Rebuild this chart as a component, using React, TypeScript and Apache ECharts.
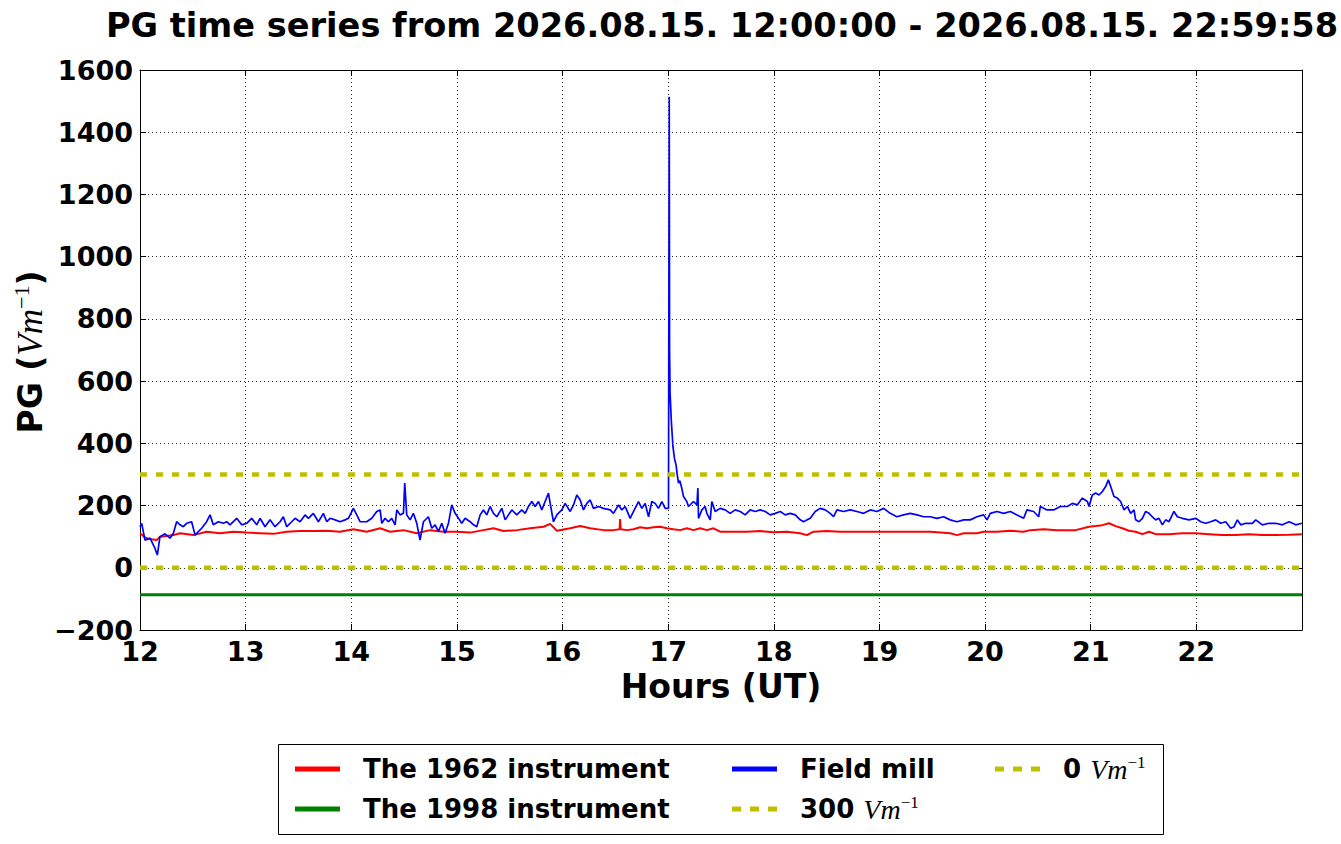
import React, { useEffect, useRef } from 'react';
import * as echarts from 'echarts';

const FONT = 'DejaVu Sans';

const blueTimes = [
  12.000, 12.016, 12.047, 12.095, 12.142, 12.164, 12.189, 12.237, 12.284, 12.316, 12.347, 12.379, 12.410, 12.442, 12.489,
  12.521, 12.552, 12.584, 12.631, 12.663, 12.694, 12.742, 12.789, 12.821, 12.852, 12.915, 12.963, 13.010, 13.057, 13.105,
  13.136, 13.184, 13.231, 13.278, 13.326, 13.357, 13.389, 13.436, 13.468, 13.515, 13.563, 13.594, 13.641, 13.689, 13.736,
  13.768, 13.799, 13.847, 13.894, 13.941, 13.973, 14.020, 14.052, 14.083, 14.146, 14.194, 14.241, 14.273,
  14.289, 14.320, 14.352, 14.383, 14.415, 14.431, 14.462, 14.494, 14.506, 14.525, 14.557, 14.588, 14.620, 14.651, 14.683,
  14.730, 14.762, 14.794, 14.825, 14.857, 14.888, 14.920, 14.951, 14.983, 15.015, 15.046, 15.078, 15.125, 15.157, 15.188,
  15.220, 15.251, 15.283, 15.314, 15.346, 15.378, 15.425, 15.457, 15.488, 15.520, 15.567, 15.614, 15.646, 15.677, 15.709,
  15.741, 15.772, 15.804, 15.835, 15.867, 15.883, 15.914, 15.946, 15.993, 16.025, 16.072, 16.104, 16.135, 16.167, 16.198,
  16.230, 16.261, 16.293, 16.340, 16.388, 16.451,
  16.482, 16.530, 16.561, 16.593, 16.640, 16.672, 16.719, 16.751, 16.782, 16.814, 16.845, 16.877, 16.908, 16.940, 16.972,
  17.003, 17.010, 17.013, 17.018, 17.030, 17.045, 17.060, 17.075, 17.085, 17.098, 17.110, 17.125, 17.145, 17.176, 17.192,
  17.240, 17.272, 17.281, 17.287, 17.319, 17.350, 17.366, 17.398, 17.413, 17.445, 17.492, 17.540, 17.587, 17.634, 17.682,
  17.729, 17.776, 17.824, 17.871, 17.919, 17.966, 18.013, 18.061, 18.108, 18.155, 18.203, 18.250, 18.282, 18.313, 18.345,
  18.392, 18.439, 18.487, 18.534, 18.566,
  18.597, 18.660, 18.723, 18.786, 18.850, 18.913, 18.976, 19.039, 19.102, 19.165, 19.228, 19.292, 19.355, 19.418, 19.481,
  19.544, 19.607, 19.670, 19.734, 19.797, 19.860, 19.923, 19.986, 20.018, 20.049, 20.112, 20.175, 20.239, 20.302, 20.365,
  20.396, 20.460, 20.507, 20.523, 20.586, 20.649, 20.712,
  20.778, 20.826, 20.873, 20.920, 20.968, 20.984, 21.015, 21.047, 21.078, 21.110, 21.141, 21.167, 21.189, 21.220, 21.252,
  21.283, 21.315, 21.347, 21.378, 21.410, 21.425, 21.457, 21.489, 21.520, 21.552, 21.583, 21.615, 21.646, 21.678, 21.709,
  21.741, 21.788, 21.820, 21.867, 21.930, 21.994, 22.041, 22.088, 22.136, 22.183, 22.230, 22.278, 22.325, 22.357, 22.388,
  22.420, 22.467, 22.530, 22.562, 22.625, 22.688, 22.751, 22.814, 22.878, 22.941, 22.999,
];

const blueValues = [
  132, 143, 89, 95, 62, 41, 100, 109, 95, 111, 148, 138, 132, 143, 148,
  105, 116, 127, 148, 170, 138, 148, 143, 148, 138, 159, 138, 143, 159, 138,
  159, 132, 154, 132, 148, 164, 132, 148, 159, 148, 170, 159, 175, 148, 175,
  148, 159, 154, 148, 154, 159, 191, 170, 148, 148, 159, 181, 186,
  143, 159, 148, 159, 138, 186, 170, 175, 272, 170, 154, 175, 143, 89, 148,
  164, 127, 138, 116, 143, 111, 143, 202, 175, 159, 143, 159, 148, 138, 132,
  170, 186, 170, 197, 175, 164, 191, 154, 170, 186, 170, 186, 175, 197, 213,
  197, 213, 186, 213, 240, 207, 148, 170, 186, 207, 181, 202, 234, 218, 186,
  207, 218, 191, 197, 191, 186,
  175, 202, 186, 197, 159, 181, 213, 191, 207, 164, 213, 207, 191, 213, 191,
  191, 1514, 700, 560, 470, 390, 350, 330, 300, 272, 280, 261, 229, 213, 197,
  213, 202, 256, 159, 186, 197, 175, 154, 213, 181, 191, 186, 175, 186, 181,
  170, 186, 181, 186, 181, 170, 175, 181, 170, 175, 170, 154, 148, 154, 159,
  181, 191, 186, 175, 164,
  186, 181, 186, 181, 175, 186, 181, 191, 175, 164, 170, 175, 170, 164, 164,
  159, 164, 154, 148, 154, 154, 164, 170, 154, 175, 181, 175, 181, 170, 159,
  186, 181, 164, 197, 186, 186, 197,
  197, 207, 202, 224, 213, 197, 234, 240, 234, 245, 261, 283, 261, 229, 224,
  213, 186, 197, 175, 186, 154, 148, 159, 181, 175, 164, 154, 159, 138, 154,
  148, 181, 164, 159, 154, 159, 148, 143, 148, 154, 143, 148, 127, 132, 154,
  138, 143, 143, 154, 138, 143, 143, 138, 148, 138, 143,
];

const redTimes = [
  12.000, 12.032, 12.063, 12.110, 12.158, 12.189, 12.253, 12.316, 12.379, 12.505, 12.631, 12.758, 12.884, 13.010, 13.136,
  13.263, 13.389, 13.515, 13.641, 13.768, 13.894, 14.020, 14.146, 14.273, 14.367, 14.494, 14.620, 14.746, 14.872, 14.999,
  15.125, 15.251, 15.346, 15.441, 15.567, 15.693, 15.820, 15.883, 15.946, 16.072, 16.167, 16.261, 16.388, 16.482, 16.540,
  16.545, 16.550, 16.609, 16.672, 16.735, 16.798, 16.861, 16.924, 16.987, 17.050, 17.114, 17.177, 17.240, 17.303, 17.366,
  17.429, 17.492, 17.555, 17.619, 17.745, 17.871, 17.997, 18.124, 18.250, 18.313, 18.376, 18.502, 18.629, 18.755, 18.976,
  19.197, 19.481, 19.670, 19.734, 19.797, 19.923, 19.986, 20.112, 20.239, 20.365, 20.428, 20.554, 20.681, 20.807, 20.857,
  20.984, 21.047, 21.110, 21.173, 21.236, 21.299, 21.362, 21.425, 21.489, 21.552, 21.615, 21.741, 21.867, 21.994, 22.120,
  22.246, 22.372, 22.498, 22.625, 22.751, 22.877, 22.999,
];

const redValues = [
  111, 102, 95, 92, 89, 100, 102, 105, 111, 105, 116, 111, 116, 113, 111,
  109, 116, 118, 118, 119, 116, 124, 116, 127, 116, 121, 111, 121, 116, 116,
  113, 121, 127, 118, 121, 127, 132, 141, 119, 127, 134, 127, 121, 121, 124,
  157, 124, 121, 124, 130, 127, 130, 132, 127, 124, 121, 127, 121, 127, 121,
  127, 116, 116, 116, 116, 118, 114, 116, 111, 105, 116, 118, 116, 116, 116,
  116, 116, 111, 105, 111, 111, 116, 116, 119, 116, 121, 124, 121, 121, 121,
  132, 134, 137, 143, 134, 127, 119, 116, 108, 116, 108, 108, 111, 111, 108,
  105, 105, 108, 105, 105, 106, 108,
];

const greenTimes = [12, 23];
const greenValues = [-87, -87];

const refTimes = [12, 23];
const level300 = [300, 300];
const level0 = [0, 0];

const seriesNames = ['The 1962 instrument', 'The 1998 instrument', 'Field mill', '300', '0'];

const zip = (ts: number[], vs: number[]) => ts.map((t, i) => [t, vs[i]]);

const richLegend = {
  b: { fontSize: 26, fontWeight: 'bold', fontFamily: FONT, color: '#000', lineHeight: 30 },
  i: { fontSize: 28, fontStyle: 'italic', fontWeight: 'normal', fontFamily: 'Liberation Serif', color: '#000', lineHeight: 30 },
  s: { fontSize: 17, fontWeight: 'normal', fontFamily: 'Liberation Serif', color: '#000', verticalAlign: 'top', lineHeight: 30 },
};

const legendFormatter = (name: string) => {
  if (name === '300' || name === '0') return `{b|${name} }{i|Vm}{s|\u22121}`;
  return name;
};

const dashIcon = 'path://M0,0h9v5h-9z M18,0h9v5h-9z M36,0h9v5h-9z';

const legendBase = {
  orient: 'vertical',
  top: 754,
  padding: 0,
  itemWidth: 45,
  itemHeight: 5,
  itemGap: 10,
  selectedMode: false,
  textStyle: {
    fontSize: 26,
    fontWeight: 'bold',
    fontFamily: FONT,
    color: '#000',
    lineHeight: 30,
    padding: [0, 0, 0, 18],
    rich: richLegend,
  },
  formatter: legendFormatter,
};

const axisLabelStyle = { fontSize: 27, fontWeight: 'bold', fontFamily: FONT, color: '#000' };
const gridLine = { show: true, lineStyle: { type: [1, 3], color: '#000', width: 1, opacity: 0.85 } };

export default function App() {
  const ref = useRef<HTMLDivElement>(null);
  useEffect(() => {
    document.body.style.margin = '0';
    const chart = echarts.init(ref.current as HTMLDivElement, null, { renderer: 'svg' });
    const option: any = {
      animation: false,
      backgroundColor: '#fff',
      title: {
        text: 'PG time series from 2026.08.15. 12:00:00 - 2026.08.15. 22:59:58',
        left: 717,
        top: 3,
        textAlign: 'center',
        textStyle: { fontSize: 33.6, fontWeight: 'bold', fontFamily: FONT, color: '#000' },
      },
      grid: { left: 140, top: 70, width: 1162, height: 560, show: false },
      xAxis: [
        {
          type: 'value', min: 12, max: 23, interval: 1, position: 'bottom',
          axisLine: { show: true, onZero: false, lineStyle: { color: '#000', width: 1 } },
          axisTick: { show: true, inside: true, length: 6, lineStyle: { color: '#000' } },
          axisLabel: { ...axisLabelStyle, margin: 8, formatter: (v: number) => (v >= 23 ? '' : String(v)) },
          splitLine: gridLine,
          name: 'Hours (UT)', nameLocation: 'middle', nameGap: 36,
          nameTextStyle: { fontSize: 33, fontWeight: 'bold', fontFamily: FONT, color: '#000' },
        },
        {
          type: 'value', min: 12, max: 23, interval: 1, position: 'top',
          axisLine: { show: true, onZero: false, lineStyle: { color: '#000', width: 1 } },
          axisTick: { show: true, inside: true, length: 6, lineStyle: { color: '#000' } },
          axisLabel: { show: false },
          splitLine: { show: false },
        },
      ],
      yAxis: [
        {
          type: 'value', min: -200, max: 1600, interval: 200, position: 'left',
          axisLine: { show: true, onZero: false, lineStyle: { color: '#000', width: 1 } },
          axisTick: { show: true, inside: true, length: 6, lineStyle: { color: '#000' } },
          axisLabel: { ...axisLabelStyle, margin: 7, formatter: (v: number) => String(v).replace('-', '\u2212') },
          splitLine: gridLine,
        },
        {
          type: 'value', min: -200, max: 1600, interval: 200, position: 'right',
          axisLine: { show: true, onZero: false, lineStyle: { color: '#000', width: 1 } },
          axisTick: { show: true, inside: true, length: 6, lineStyle: { color: '#000' } },
          axisLabel: { show: false },
          splitLine: { show: false },
        },
      ],
      legend: [
        { ...legendBase, left: 295, data: [
          { name: seriesNames[0], icon: 'rect' },
          { name: seriesNames[1], icon: 'rect' },
        ] },
        { ...legendBase, left: 732, data: [
          { name: seriesNames[2], icon: 'rect' },
          { name: seriesNames[3], icon: dashIcon },
        ] },
        { ...legendBase, left: 995, data: [
          { name: seriesNames[4], icon: dashIcon },
        ] },
      ],
      graphic: [
        {
          type: 'rect', z: 0, silent: true,
          shape: { x: 278.5, y: 744.5, width: 885, height: 90 },
          style: { fill: '#fff', stroke: '#000', lineWidth: 1 },
        },
        {
          type: 'text', x: 30, y: 352, rotation: Math.PI / 2, silent: true,
          style: {
            text: '{b|PG (}{i|Vm}{s|\u22121}{b|)}',
            align: 'center', verticalAlign: 'middle', fill: '#000',
            rich: {
              b: { fontSize: 33, fontWeight: 'bold', fontFamily: FONT, fill: '#000', lineHeight: 40 },
              i: { fontSize: 35, fontStyle: 'italic', fontFamily: 'Liberation Serif', fill: '#000', lineHeight: 40 },
              s: { fontSize: 22, fontFamily: 'Liberation Serif', fill: '#000', verticalAlign: 'top', lineHeight: 40 },
            },
          },
        },
      ],
      series: [
        {
          name: seriesNames[0], type: 'line', data: zip(redTimes, redValues), showSymbol: false, symbol: 'none',
          color: '#ff0000', lineStyle: { color: '#ff0000', width: 2 }, itemStyle: { color: '#ff0000' }, z: 2,
        },
        {
          name: seriesNames[1], type: 'line', data: zip(greenTimes, greenValues), showSymbol: false, symbol: 'none',
          color: '#008000', lineStyle: { color: '#008000', width: 3 }, itemStyle: { color: '#008000' }, z: 3,
        },
        {
          name: seriesNames[2], type: 'line', data: zip(blueTimes, blueValues), showSymbol: false, symbol: 'none',
          color: '#0000ff', lineStyle: { color: '#0000ff', width: 1.7 }, itemStyle: { color: '#0000ff' }, z: 4,
        },
        {
          name: seriesNames[3], type: 'line', data: zip(refTimes, level300), showSymbol: false, symbol: 'none',
          color: '#bfbf00', lineStyle: { color: '#bfbf00', width: 4.5, type: [7, 9], cap: 'butt' }, itemStyle: { color: '#bfbf00' }, z: 5,
        },
        {
          name: seriesNames[4], type: 'line', data: zip(refTimes, level0), showSymbol: false, symbol: 'none',
          color: '#bfbf00', lineStyle: { color: '#bfbf00', width: 4.5, type: [7, 9], cap: 'butt' }, itemStyle: { color: '#bfbf00' }, z: 5,
        },
      ],
    };
    chart.setOption(option);
    return () => chart.dispose();
  }, []);
  return <div ref={ref} style={{ width: 1341, height: 844 }} />;
}
